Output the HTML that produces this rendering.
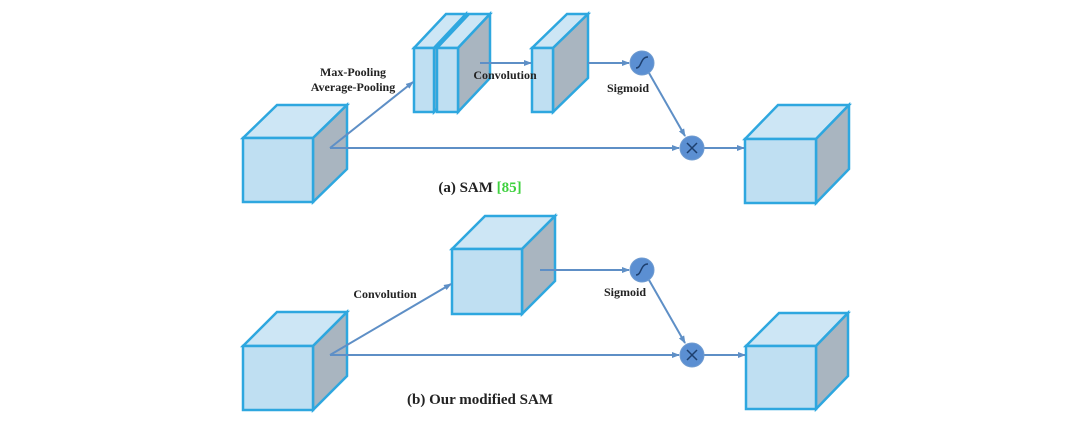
<!DOCTYPE html>
<html><head><meta charset="utf-8"><style>
html,body{margin:0;padding:0;background:#fff;}
svg{display:block;}
text{font-family:"Liberation Serif",serif;font-weight:bold;fill:#222;}
</style></head><body>
<svg width="1080" height="427" viewBox="0 0 1080 427" xmlns="http://www.w3.org/2000/svg">
<defs>
<marker id="a" markerWidth="8" markerHeight="8" refX="7" refY="4" orient="auto" markerUnits="userSpaceOnUse">
<path d="M0,1 L8,4 L0,7 Z" fill="#5e8fc6"/></marker>
</defs>
<g stroke="#2ea7df" stroke-width="2.5" stroke-linejoin="miter">
<!-- top input cube: x243 y138 w70 h64 dx34 dy-33 -->
<polygon points="243,138 277,105 347,105 313,138" fill="#cde6f5"/>
<polygon points="313,138 347,105 347,169 313,202" fill="#a9b5c0"/>
<rect x="243" y="138" width="70" height="64" fill="#bfdff2"/>
<!-- slab1 -->
<polygon points="414,48 446,14 466,14 434,48" fill="#cde6f5"/>
<polygon points="434,48 466,14 466,78 434,112" fill="#a9b5c0"/>
<rect x="414" y="48" width="20" height="64" fill="#bfdff2"/>
<!-- slab2 -->
<polygon points="437,48 469,14 490,14 458,48" fill="#cde6f5"/>
<polygon points="458,48 490,14 490,78 458,112" fill="#a9b5c0"/>
<rect x="437" y="48" width="21" height="64" fill="#bfdff2"/>
<!-- slab3 -->
<polygon points="532,48 567,14 588,14 553,48" fill="#cde6f5"/>
<polygon points="553,48 588,14 588,78 553,112" fill="#a9b5c0"/>
<rect x="532" y="48" width="21" height="64" fill="#bfdff2"/>
<!-- top output cube -->
<polygon points="745,139 778,105 849,105 816,139" fill="#cde6f5"/>
<polygon points="816,139 849,105 849,169 816,203" fill="#a9b5c0"/>
<rect x="745" y="139" width="71" height="64" fill="#bfdff2"/>
<!-- bottom input cube -->
<polygon points="243,346 277,312 347,312 313,346" fill="#cde6f5"/>
<polygon points="313,346 347,312 347,376 313,410" fill="#a9b5c0"/>
<rect x="243" y="346" width="70" height="64" fill="#bfdff2"/>
<!-- bottom middle cube -->
<polygon points="452,249 485,216 555,216 522,249" fill="#cde6f5"/>
<polygon points="522,249 555,216 555,281 522,314" fill="#a9b5c0"/>
<rect x="452" y="249" width="70" height="65" fill="#bfdff2"/>
<!-- bottom output cube -->
<polygon points="746,346 779,313 848,313 816,346" fill="#cde6f5"/>
<polygon points="816,346 848,313 848,376 816,409" fill="#a9b5c0"/>
<rect x="746" y="346" width="70" height="63" fill="#bfdff2"/>
</g>
<g stroke="#5e8fc6" stroke-width="2" fill="none">
<line x1="330" y1="148" x2="413" y2="82" marker-end="url(#a)"/>
<line x1="330" y1="148" x2="679" y2="148" marker-end="url(#a)"/>
<line x1="480" y1="63" x2="531" y2="63" marker-end="url(#a)"/>
<line x1="588" y1="63" x2="629" y2="63" marker-end="url(#a)"/>
<line x1="649" y1="73" x2="685" y2="136" marker-end="url(#a)"/>
<line x1="704" y1="148" x2="744" y2="148" marker-end="url(#a)"/>
<line x1="330" y1="355" x2="451" y2="284" marker-end="url(#a)"/>
<line x1="330" y1="355" x2="679" y2="355" marker-end="url(#a)"/>
<line x1="540" y1="270" x2="629" y2="270" marker-end="url(#a)"/>
<line x1="649" y1="280" x2="685" y2="343" marker-end="url(#a)"/>
<line x1="704" y1="355" x2="745" y2="355" marker-end="url(#a)"/>
</g>
<g fill="#5b8fd2" stroke="#6f9bd0" stroke-width="1">
<circle cx="642" cy="63" r="12"/><circle cx="692" cy="148" r="12"/>
<circle cx="642" cy="270" r="12"/><circle cx="692" cy="355" r="12"/>
</g>
<g stroke="#1d3f6e" stroke-width="1.5" fill="none">
<path d="M636,68 C642,68 640,57 648,57"/>
<path d="M636,275 C642,275 640,264 648,264"/>
<path d="M687,143 L697,153 M697,143 L687,153"/>
<path d="M687,350 L697,360 M697,350 L687,360"/>
</g>
<text x="353" y="76" font-size="12" text-anchor="middle">Max-Pooling</text>
<text x="353" y="91" font-size="12" text-anchor="middle">Average-Pooling</text>
<text x="505" y="79" font-size="12" text-anchor="middle">Convolution</text>
<text x="628" y="92" font-size="12" text-anchor="middle">Sigmoid</text>
<text x="480" y="192" font-size="15" text-anchor="middle">(a) SAM <tspan fill="#3ed13e">[85]</tspan></text>
<text x="385" y="298" font-size="12" text-anchor="middle">Convolution</text>
<text x="625" y="296" font-size="12" text-anchor="middle">Sigmoid</text>
<text x="480" y="404" font-size="15" text-anchor="middle">(b) Our modified SAM</text>
</svg>
</body></html>
